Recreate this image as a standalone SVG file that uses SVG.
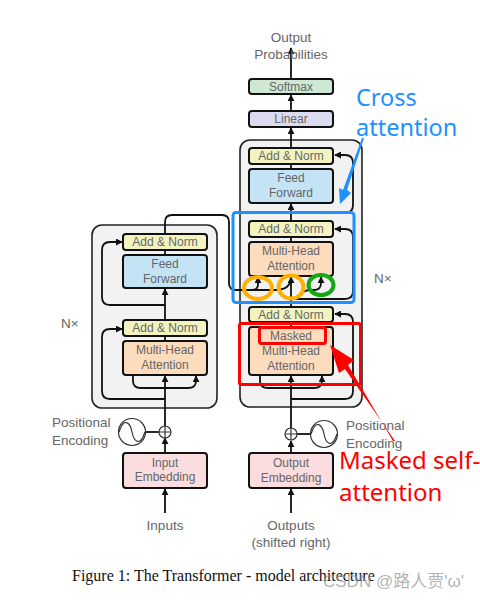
<svg xmlns="http://www.w3.org/2000/svg" width="480" height="600" viewBox="0 0 480 600">
<style>
text{font-family:"Liberation Sans",Arial,sans-serif;fill:#666}
.l{font-size:12px;text-anchor:middle}
.t{font-size:13.500px;text-anchor:middle}
.s{font-size:13.500px}
.b{stroke:#111;stroke-width:2}
.st{fill:#f2f2f2;stroke:#222;stroke-width:1.6}
.c{fill:none;stroke:#111;stroke-width:1.8}
.an{fill:#f3f3c0}.ff{fill:#c4e4f6}.mh{fill:#fcdcbc}.em{fill:#fbdcdf}
.ann{font-family:"Noto Sans",sans-serif;font-size:24px}
.o{fill:none;stroke-width:4}
</style>
<defs>
<marker id="a" viewBox="0 0 8 8" refX="7" refY="4" markerWidth="7" markerHeight="7" markerUnits="userSpaceOnUse" orient="auto"><path d="M0 0L8 4L0 8Z" fill="#111"/></marker>
</defs>
<rect x="0" y="0" width="480" height="600" fill="#fff"/>
<g id="stack-enc"><rect class="st" x="92" y="225" width="125" height="183" rx="10"/></g>
<g id="stack-dec"><rect class="st" x="240" y="140" width="122" height="267" rx="10"/></g>
<g id="connectors">
<path class="c" marker-end="url(#a)" d="M165 513V489"/>
<path class="c" marker-end="url(#a)" d="M165 453V438"/>
<path class="c" marker-end="url(#a)" d="M165 426V376"/>
<path class="c" d="M165 341V336"/>
<path class="c" marker-end="url(#a)" d="M165 320V289"/>
<path class="c" d="M165 255V250"/>
<path class="c" marker-end="url(#a)" d="M165 399H110Q102 399 102 391V337Q102 329 110 329H122"/>
<path class="c" marker-end="url(#a)" d="M165 305H110Q102 305 102 297V250Q102 242 110 242H122"/>
<path class="c" marker-end="url(#a)" d="M133 376V381Q133 388 141 388H188Q196 388 196 381V376"/>
<path class="c" d="M165 234V222Q165 215 172 215H222Q229 215 229 222V283Q229 290 236 290H252Q258 290 258 284V277"/>
<path class="c" d="M250 290H275Q291 290 291 277"/>
<path class="c" marker-end="url(#a)" d="M258 284V277"/>
<path class="c" marker-end="url(#a)" d="M291 513V489"/>
<path class="c" marker-end="url(#a)" d="M291 453V441"/>
<path class="c" marker-end="url(#a)" d="M291 428V376"/>
<path class="c" d="M291 327V322"/>
<path class="c" marker-end="url(#a)" d="M291 307V277"/>
<path class="c" d="M291 242V237"/>
<path class="c" marker-end="url(#a)" d="M291 221V204"/>
<path class="c" d="M291 169V164"/>
<path class="c" marker-end="url(#a)" d="M291 148V128"/>
<path class="c" marker-end="url(#a)" d="M291 111V95"/>
<path class="c" marker-end="url(#a)" d="M291 79V48"/>
<path class="c" marker-end="url(#a)" d="M260 376V381Q260 388 268 388H314Q322 388 322 381V376"/>
<path class="c" marker-end="url(#a)" d="M291 399H345Q353 399 353 391V322Q353 314 345 314H335"/>
<path class="c" marker-end="url(#a)" d="M291 299H345Q353 299 353 291V237Q353 229 345 229H335"/>
<path class="c" marker-end="url(#a)" d="M291 213H345Q353 213 353 205V163Q353 155 345 155H335"/>
<path class="c" marker-end="url(#a)" d="M297 297Q303 290 310 290H314Q321 290 321 283V277"/>
<path class="c" d="M132 432H159"/>
<path class="c" d="M297 434H310"/>
</g>
<g id="softmax"><rect class="b" x="249" y="79" width="84" height="15" rx="3" fill="#cfe8d3"/><text class="l" x="291" y="91">Softmax</text></g>
<g id="linear"><rect class="b" x="249" y="111" width="84" height="16" rx="3" fill="#dcdcf0"/><text class="l" x="291" y="123">Linear</text></g>
<g id="dec-addnorm-3"><rect class="b an" x="249" y="148" width="84" height="16" rx="3"/><text class="l" x="291" y="160">Add &amp; Norm</text></g>
<g id="dec-feedforward"><rect class="b ff" x="249" y="169" width="84" height="34" rx="3"/><text class="l" x="291" y="182">Feed</text><text class="l" x="291" y="197">Forward</text></g>
<g id="dec-addnorm-2"><rect class="b an" x="249" y="221" width="84" height="16" rx="3"/><text class="l" x="291" y="233">Add &amp; Norm</text></g>
<g id="dec-attention"><rect class="b mh" x="249" y="242" width="84" height="34" rx="3"/><text class="l" x="291" y="255">Multi-Head</text><text class="l" x="291" y="270">Attention</text></g>
<g id="dec-addnorm-1"><rect class="b an" x="249" y="307" width="84" height="15" rx="3"/><text class="l" x="291" y="319">Add &amp; Norm</text></g>
<g id="dec-masked"><rect class="b mh" x="249" y="327" width="84" height="48" rx="3"/><text class="l" x="291" y="340">Masked</text><text class="l" x="291" y="355">Multi-Head</text><text class="l" x="291" y="370">Attention</text></g>
<g id="output-embedding"><rect class="b em" x="249" y="453" width="84" height="35" rx="3"/><text class="l" x="291" y="467">Output</text><text class="l" x="291" y="482">Embedding</text></g>
<g id="enc-addnorm-2"><rect class="b an" x="123" y="234" width="84" height="16" rx="3"/><text class="l" x="165" y="246">Add &amp; Norm</text></g>
<g id="enc-feedforward"><rect class="b ff" x="123" y="255" width="84" height="33" rx="3"/><text class="l" x="165" y="268">Feed</text><text class="l" x="165" y="283">Forward</text></g>
<g id="enc-addnorm-1"><rect class="b an" x="123" y="320" width="84" height="16" rx="3"/><text class="l" x="165" y="332">Add &amp; Norm</text></g>
<g id="enc-attention"><rect class="b mh" x="123" y="341" width="84" height="34" rx="3"/><text class="l" x="165" y="354">Multi-Head</text><text class="l" x="165" y="369">Attention</text></g>
<g id="input-embedding"><rect class="b em" x="123" y="453" width="84" height="35" rx="3"/><text class="l" x="165" y="467">Input</text><text class="l" x="165" y="481">Embedding</text></g>
<g id="enc-add"><circle cx="165" cy="432" r="6" fill="#fff" stroke="#333" stroke-width="1.2"/><path d="M159 432H171M165 426V438" stroke="#333" stroke-width="1.2"/></g>
<g id="dec-add"><circle cx="291" cy="434" r="6" fill="#fff" stroke="#333" stroke-width="1.2"/><path d="M285 434H297M291 428V440" stroke="#333" stroke-width="1.2"/></g>
<g id="enc-pos"><circle cx="132" cy="432" r="13.500" fill="#fff" stroke="#333" stroke-width="1.2"/><path d="M119 432C124 417 130 422 132 432S140 447 145 432" fill="none" stroke="#333" stroke-width="1.2"/></g>
<g id="dec-pos"><circle cx="324" cy="434" r="13.500" fill="#fff" stroke="#333" stroke-width="1.2"/><path d="M311 434C316 419 322 424 324 434S332 449 337 434" fill="none" stroke="#333" stroke-width="1.2"/></g>
<g id="labels">
<text class="t" x="291" y="42">Output</text><text class="t" x="291" y="59">Probabilities</text>
<text class="s" x="61" y="328">N×</text><text class="s" x="374" y="283">N×</text>
<text class="s" x="52" y="427">Positional</text><text class="s" x="52" y="445">Encoding</text>
<text class="s" x="346" y="430">Positional</text><text class="s" x="346" y="448">Encoding</text>
<text class="t" x="165" y="530">Inputs</text>
<text class="t" x="291" y="530">Outputs</text><text class="t" x="291" y="547">(shifted right)</text>
<text x="72" y="581" style="font-family:'Liberation Serif',serif;font-size:16px;fill:#111">Figure 1: The Transformer - model architecture</text>
</g>
<g id="annotations">
<rect x="233" y="212.500" width="121" height="90" rx="3" fill="none" stroke="#1e90ff" stroke-width="3"/>
<ellipse class="o" cx="258" cy="288" rx="14" ry="11" stroke="#ffb000"/>
<ellipse class="o" cx="291" cy="287" rx="12.500" ry="11.500" stroke="#ffb000"/>
<ellipse class="o" cx="321" cy="285" rx="12.500" ry="10" stroke="#14a814"/>
<rect x="239.500" y="323.500" width="121" height="61" rx="2" fill="none" stroke="#f00" stroke-width="3"/>
<rect x="259.500" y="327.500" width="66" height="16" rx="2" fill="none" stroke="#f00" stroke-width="3"/>
<path d="M364 138L347 190L351 193L340 204L339 188L343 190L362 138Z" fill="#1e90ff"/>
<path d="M395 441L345 369L339 373L330 345L354 360L348 365L393 441Z" fill="#f00"/>
<text class="ann" x="356" y="106" style="fill:#1e90ff;font-size:23.500px">Cross</text>
<text class="ann" x="356" y="136" style="fill:#1e90ff;font-size:23.500px">attention</text>
<text class="ann" x="339" y="469" style="fill:#f00">Masked self-</text>
<text class="ann" x="339" y="501" style="fill:#f00">attention</text>
<text x="323" y="587" style="font-family:'Liberation Sans','Noto Sans CJK SC',sans-serif;font-size:17px;fill:#999;fill-opacity:.75">CSDN @路人贾'ω'</text>
</g>
</svg>
